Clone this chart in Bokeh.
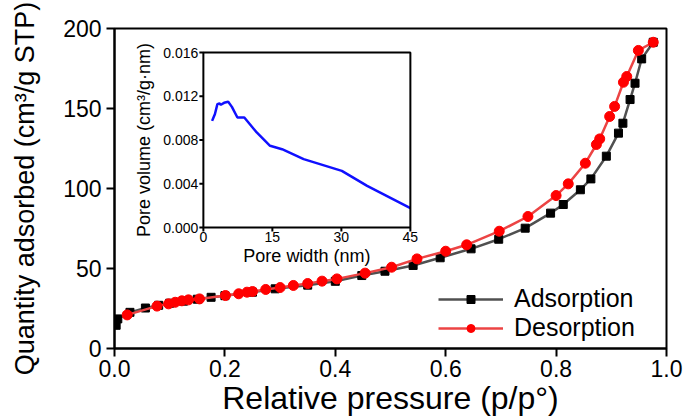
from math import pi
from bokeh.plotting import figure
from bokeh.models import Range1d, FixedTicker, Legend, LegendItem
from bokeh.embed import file_html
from bokeh.resources import INLINE
from bokeh.core.properties import value

# ---------------- main isotherm data ----------------
ads_x = [0.003, 0.006, 0.028, 0.056, 0.080, 0.100, 0.125, 0.150, 0.175, 0.200,
         0.250, 0.291, 0.350, 0.400, 0.448, 0.490, 0.541, 0.590, 0.646, 0.696,
         0.744, 0.790, 0.813, 0.844, 0.863, 0.891, 0.913, 0.921, 0.934, 0.943,
         0.955, 0.976]
ads_y = [14.5, 18.5, 22.6, 25.3, 27.0, 28.3, 29.6, 30.8, 32.0, 33.0,
         35.2, 37.3, 39.6, 42.0, 45.6, 48.3, 51.9, 56.7, 62.3, 68.3,
         75.2, 84.6, 90.0, 99.2, 106.0, 120.2, 134.6, 140.8, 155.6, 165.8,
         181.0, 191.4]

des_x = [0.976, 0.949, 0.928, 0.922, 0.906, 0.897, 0.879, 0.873, 0.853, 0.822,
         0.800, 0.749, 0.697, 0.638, 0.600, 0.548, 0.502, 0.454, 0.403, 0.376,
         0.350, 0.324, 0.300, 0.274, 0.250, 0.240, 0.225, 0.201, 0.154, 0.134,
         0.122, 0.110, 0.098, 0.077, 0.023]
des_y = [191.4, 186.3, 170.0, 166.4, 151.3, 145.0, 131.0, 127.5, 115.8, 102.9,
         95.6, 82.5, 73.3, 64.8, 60.8, 56.0, 50.8, 47.1, 43.5, 42.1,
         40.6, 39.4, 38.1, 36.9, 35.6, 35.2, 34.2, 33.1, 31.0, 30.4,
         29.8, 28.9, 27.9, 26.5, 21.0]

x_ticks = [0.0, 0.2, 0.4, 0.6, 0.8, 1.0]
x_tick_labels = ["0.0", "0.2", "0.4", "0.6", "0.8", "1.0"]
y_ticks = [0, 50, 100, 150, 200]
y_tick_labels = ["0", "50", "100", "150", "200"]

# ---------------- inset pore size distribution ----------------
psd_x = [1.9, 2.2, 2.5, 3.05, 3.5, 3.8, 4.5, 5.4, 6.2, 7.4, 8.9,
         11.6, 14.5, 17.1, 21.8, 30.1, 35.6, 45.0]
psd_y = [0.00975, 0.01006, 0.01036, 0.01128, 0.01134, 0.01122, 0.01140,
         0.01149, 0.01103, 0.01006, 0.01006, 0.00869, 0.00747, 0.00716,
         0.00625, 0.00518, 0.00381, 0.00178]
inset_xlim = (0, 45)
inset_ylim = (0.0, 0.016)
inset_x_ticks = [0, 15, 30, 45]
inset_x_tick_labels = ["0", "15", "30", "45"]
inset_y_ticks = [0.0, 0.004, 0.008, 0.012, 0.016]
inset_y_tick_labels = ["0.000", "0.004", "0.008", "0.012", "0.016"]

FONT = "Liberation Sans"

p = figure(width=685, height=419, output_backend="svg", toolbar_location=None,
           x_range=Range1d(0, 1), y_range=Range1d(0, 200),
           min_border_left=114, min_border_right=19, min_border_top=28,
           min_border_bottom=71)
p.xgrid.visible = False
p.ygrid.visible = False
p.outline_line_color = "black"
p.outline_line_width = 2
p.outline_line_alpha = 1

for ax in (p.xaxis[0], p.yaxis[0]):
    ax.axis_line_width = 2
    ax.axis_line_color = "black"
    ax.major_tick_line_width = 2
    ax.major_tick_out = 8
    ax.major_tick_in = 0
    ax.minor_tick_out = 0
    ax.minor_tick_in = 0
    ax.major_label_text_font = FONT
    ax.major_label_text_font_size = "23px"
    ax.major_label_text_color = "black"
    ax.axis_label_text_font = FONT
    ax.axis_label_text_font_style = "normal"
    ax.axis_label_text_color = "black"

p.xaxis.ticker = FixedTicker(ticks=x_ticks)
p.xaxis.major_label_overrides = dict(zip(x_ticks, x_tick_labels))
p.yaxis.ticker = FixedTicker(ticks=y_ticks)
p.yaxis.major_label_overrides = dict(zip(y_ticks, y_tick_labels))
p.xaxis.major_label_standoff = 3
p.yaxis.major_label_standoff = 5
p.xaxis.axis_label = "Relative pressure (p/p\u00b0)"
p.xaxis.axis_label_text_font_size = "32px"
p.xaxis.axis_label_standoff = 0
p.yaxis.axis_label = "Quantity adsorbed (cm\u00b3/g STP)"
p.yaxis.axis_label_text_font_size = "27px"
p.yaxis.axis_label_standoff = 20

r_ads_l = p.line(ads_x, ads_y, line_color="#505050", line_width=2.5)
r_ads_m = p.scatter(ads_x, ads_y, marker="square", size=8, color="black")
r_des_l = p.line(des_x, des_y, line_color="#ec4444", line_width=2.5)
r_des_m = p.scatter(des_x, des_y, marker="circle", size=10, color="#ff0000")

legend = Legend(items=[LegendItem(label="Adsorption", renderers=[r_ads_l, r_ads_m]),
                       LegendItem(label="Desorption", renderers=[r_des_l, r_des_m])],
                location=(324, 6), orientation="vertical",
                border_line_alpha=0, background_fill_alpha=0,
                padding=0, margin=0, spacing=0,
                glyph_width=65, glyph_height=20, label_height=26,
                label_standoff=11, label_text_font=FONT,
                label_text_font_size="25px", label_text_color="black")
p.add_layout(legend)

# ---------------- inset drawn in a sub-coordinate system ----------------
sub = p.subplot(x_source=Range1d(*inset_xlim), y_source=Range1d(*inset_ylim),
                x_target=Range1d(0.161, 0.536), y_target=Range1d(75.6, 185))
sub.line(psd_x, psd_y, line_color="#1010ff", line_width=2.5)
sub.quad(left=[inset_xlim[0]], right=[inset_xlim[1]],
         bottom=[inset_ylim[0]], top=[inset_ylim[1]],
         fill_alpha=0, line_color="black", line_width=2)
sub.ray(x=inset_x_ticks, y=[inset_ylim[0]] * len(inset_x_ticks), length=4,
        length_units="screen", angle=-pi / 2, line_color="black", line_width=2)
sub.ray(x=[inset_xlim[0]] * len(inset_y_ticks), y=inset_y_ticks, length=4,
        length_units="screen", angle=pi, line_color="black", line_width=2)
sub.text(x=inset_x_ticks, y=[inset_ylim[0]] * len(inset_x_ticks),
         text=inset_x_tick_labels, y_offset=4, text_align="center",
         text_baseline="top", text_font=value(FONT), text_font_size="14px",
         text_color="black")
sub.text(x=[inset_xlim[0]] * len(inset_y_ticks), y=inset_y_ticks,
         text=inset_y_tick_labels, x_offset=-5, text_align="right",
         text_baseline="middle", text_font=value(FONT), text_font_size="14px",
         text_color="black")
sub.text(x=[(inset_xlim[0] + inset_xlim[1]) / 2], y=[inset_ylim[0]],
         text=["Pore width (nm)"], y_offset=18, text_align="center",
         text_baseline="top", text_font=value(FONT), text_font_size="18px",
         text_color="black")
sub.text(x=[inset_xlim[0]], y=[(inset_ylim[0] + inset_ylim[1]) / 2],
         text=["Pore volume (cm\u00b3/g\u00b7nm)"], x_offset=-49, angle=pi / 2,
         text_align="center", text_baseline="bottom", text_font=value(FONT),
         text_font_size="18px", text_color="black")

open("out.html", "w").write(file_html(p, INLINE))
